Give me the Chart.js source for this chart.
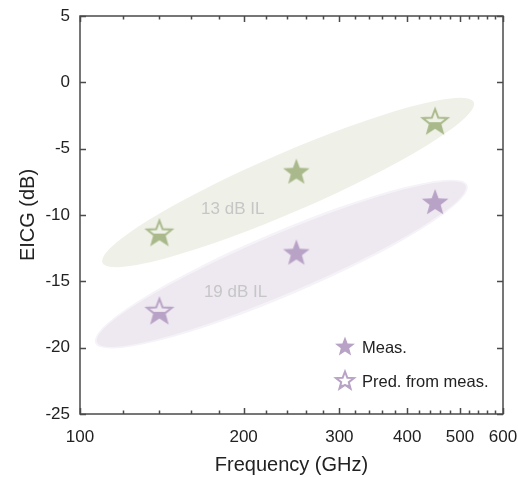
<!doctype html>
<html>
<head>
<title>EICG vs Frequency</title>
<script src="https://cdn.jsdelivr.net/npm/chart.js@4/dist/chart.umd.min.js"></script>
<style>
body { margin: 0; background: #fff; }
#holder { width: 518px; height: 477px; }
</style>
</head>
<body>
<div id="holder"><canvas id="chart-area" width="518" height="477"></canvas></div>
<script>
// measured / predicted points (GHz, dB)
var greenMeas = [{x: 250, y: -6.8}];
var greenPred = [{x: 140, y: -11.4}, {x: 450, y: -3.0}];
var purpleMeas = [{x: 250, y: -12.9}, {x: 450, y: -9.1}];
var purplePred = [{x: 140, y: -17.3}];

// axis ticks
var xTickLabels = [100, 200, 300, 400, 500, 600];
var xMinorTicks = [120, 140, 160, 180, 220, 240, 260, 280, 320, 340, 360, 380,
                   420, 440, 460, 480, 520, 540, 560, 580];
var yTicks = [5, 0, -5, -10, -15, -20, -25];

// shaded bands: end points (GHz, dB)
var band13 = [{x: 110, y: -13.6}, {x: 530, y: -1.5}];
var band19 = [{x: 107.5, y: -19.6}, {x: 512, y: -7.8}];
var bandLabels = [
    {text: '13 dB IL', x: 167, y: -9.6},
    {text: '19 dB IL', x: 169, y: -15.8}
];

var legendLabels = ['Meas.', 'Pred. from meas.'];

var GREEN = '#a9b98b';
var PURPLE = '#b8a3c6';

Chart.defaults.font.family = "'Liberation Sans', Arial, Helvetica, sans-serif";
Chart.defaults.color = '#222';

function starPath(ctx, cx, cy, r) {
    var ri = r * 0.42;
    ctx.beginPath();
    for (var i = 0; i < 10; i++) {
        var rad = i % 2 ? ri : r;
        var a = -Math.PI / 2 + i * Math.PI / 5;
        ctx.lineTo(cx + rad * Math.cos(a), cy + rad * Math.sin(a));
    }
    ctx.closePath();
}

function drawStar(ctx, cx, cy, r, color, hollow, fillFrom) {
    ctx.save();
    if (!hollow) {
        starPath(ctx, cx, cy, r);
        ctx.fillStyle = color;
        ctx.fill();
    } else {
        // lower part of the outline star is filled in the original
        ctx.save();
        ctx.beginPath();
        ctx.rect(cx - r - 2, cy + fillFrom * r, 2 * r + 4, 2 * r);
        ctx.clip();
        starPath(ctx, cx, cy, r);
        ctx.fillStyle = color;
        ctx.fill();
        ctx.restore();
        starPath(ctx, cx, cy, r - 1);
        ctx.strokeStyle = color;
        ctx.lineWidth = 2;
        ctx.lineJoin = 'miter';
        ctx.stroke();
    }
    ctx.restore();
}

function makeStar(color, r, hollow) {
    var c = document.createElement('canvas');
    c.width = 2 * r + 4;
    c.height = 2 * r + 4;
    drawStar(c.getContext('2d'), r + 2, r + 2, r, color, hollow, 0.0);
    return c;
}

var bandPlugin = {
    id: 'bands',
    beforeDatasetsDraw: function(chart) {
        var ctx = chart.ctx;
        var xs = chart.scales.x, ys = chart.scales.y;
        function ellipse(band, fill, rim) {
            var x1 = xs.getPixelForValue(band[0].x), y1 = ys.getPixelForValue(band[0].y);
            var x2 = xs.getPixelForValue(band[1].x), y2 = ys.getPixelForValue(band[1].y);
            var cx = (x1 + x2) / 2, cy = (y1 + y2) / 2;
            var a = Math.hypot(x2 - x1, y2 - y1) / 2;
            var ang = Math.atan2(y2 - y1, x2 - x1);
            var b = 29.5;
            if (rim) {
                ctx.beginPath();
                ctx.ellipse(cx, cy, a + 2, b + 2.5, ang, 0, Math.PI * 2);
                ctx.fillStyle = rim;
                ctx.fill();
            }
            ctx.beginPath();
            ctx.ellipse(cx, cy, a, b, ang, 0, Math.PI * 2);
            ctx.fillStyle = fill;
            ctx.fill();
        }
        ctx.save();
        ellipse(band13, '#eff1e8', null);
        ellipse(band19, '#eee8f1', '#f6f3f8');
        ctx.font = "17px 'Liberation Sans', Arial, sans-serif";
        ctx.textAlign = 'left';
        ctx.textBaseline = 'middle';
        ctx.fillStyle = '#c6c6c6';
        bandLabels.forEach(function(l) {
            ctx.fillText(l.text, xs.getPixelForValue(l.x), ys.getPixelForValue(l.y));
        });
        ctx.restore();
    },
    afterDatasetsDraw: function(chart) {
        var ctx = chart.ctx;
        var a = chart.chartArea;
        var xs = chart.scales.x, ys = chart.scales.y;
        ctx.save();
        ctx.strokeStyle = '#4a4a4a';
        ctx.lineWidth = 1.5;
        ctx.beginPath();
        xTickLabels.forEach(function(v) {
            var px = Math.round(xs.getPixelForValue(v)) + 0.5;
            ctx.moveTo(px, a.bottom); ctx.lineTo(px, a.bottom - 6);
            ctx.moveTo(px, a.top); ctx.lineTo(px, a.top + 6);
        });
        xMinorTicks.forEach(function(v) {
            var px = Math.round(xs.getPixelForValue(v)) + 0.5;
            ctx.moveTo(px, a.bottom); ctx.lineTo(px, a.bottom - 3.5);
            ctx.moveTo(px, a.top); ctx.lineTo(px, a.top + 3.5);
        });
        yTicks.forEach(function(v) {
            var py = Math.round(ys.getPixelForValue(v)) + 0.5;
            ctx.moveTo(a.left, py); ctx.lineTo(a.left + 6, py);
            ctx.moveTo(a.right, py); ctx.lineTo(a.right - 6, py);
        });
        ctx.stroke();
        ctx.strokeRect(a.left, a.top, a.right - a.left, a.bottom - a.top);
        ctx.restore();
    },
    afterDraw: function(chart) {
        var ctx = chart.ctx;
        ctx.save();
        // legend sits at fixed place inside the plot
        var lx = 345, ly = 347;
        drawStar(ctx, lx, ly, 10.5, PURPLE, false);
        drawStar(ctx, lx, ly + 34, 10.5, PURPLE, true, 0.35);
        ctx.font = "16.5px 'Liberation Sans', Arial, sans-serif";
        ctx.fillStyle = '#222';
        ctx.textAlign = 'left';
        ctx.textBaseline = 'middle';
        ctx.fillText(legendLabels[0], lx + 17, ly + 1);
        ctx.fillText(legendLabels[1], lx + 17, ly + 35);
        ctx.restore();
    }
};

var config = {
    type: 'scatter',
    data: {
        datasets: [{
            label: 'Meas. 13 dB',
            data: greenMeas,
            pointStyle: makeStar(GREEN, 14, false),
            pointRadius: 14
        }, {
            label: 'Pred. 13 dB',
            data: greenPred,
            pointStyle: makeStar(GREEN, 14, true),
            pointRadius: 14
        }, {
            label: 'Meas. 19 dB',
            data: purpleMeas,
            pointStyle: makeStar(PURPLE, 14, false),
            pointRadius: 14
        }, {
            label: 'Pred. 19 dB',
            data: purplePred,
            pointStyle: makeStar(PURPLE, 14, true),
            pointRadius: 14
        }]
    },
    options: {
        responsive: false,
        animation: false,
        events: [],
        devicePixelRatio: 1,
        layout: {padding: {top: 16, right: 15, left: 0, bottom: 0}},
        plugins: {legend: {display: false}, tooltip: {enabled: false}},
        scales: {
            x: {
                type: 'logarithmic',
                min: 100,
                max: 600,
                afterBuildTicks: function(s) {
                    s.ticks = xTickLabels.map(function(v) { return {value: v}; });
                },
                afterFit: function(s) {
                    s.height = 63;
                    s.paddingLeft = 0;
                    s.paddingRight = 0;
                },
                grid: {display: false, drawTicks: false},
                border: {display: false},
                ticks: {
                    font: {size: 17},
                    color: '#222',
                    padding: 13,
                    maxRotation: 0,
                    autoSkip: false,
                    callback: function(v) { return String(v); }
                },
                title: {
                    display: true,
                    text: 'Frequency (GHz)',
                    font: {size: 20},
                    color: '#222',
                    padding: {top: 0, bottom: 0}
                }
            },
            y: {
                min: -25,
                max: 5,
                afterBuildTicks: function(s) {
                    s.ticks = yTicks.map(function(v) { return {value: v}; });
                },
                afterFit: function(s) {
                    s.width = 80;
                    s.paddingTop = 0;
                    s.paddingBottom = 0;
                },
                grid: {display: false, drawTicks: false},
                border: {display: false},
                ticks: {
                    font: {size: 17},
                    color: '#222',
                    padding: 10
                },
                title: {
                    display: true,
                    text: 'EICG (dB)',
                    font: {size: 20},
                    color: '#222',
                    padding: {top: 16, bottom: 0}
                }
            }
        }
    },
    plugins: [bandPlugin]
};

window.onload = function() {
    var ctx = document.getElementById('chart-area').getContext('2d');
    window.myChart = new Chart(ctx, config);
};
</script>
</body>
</html>
